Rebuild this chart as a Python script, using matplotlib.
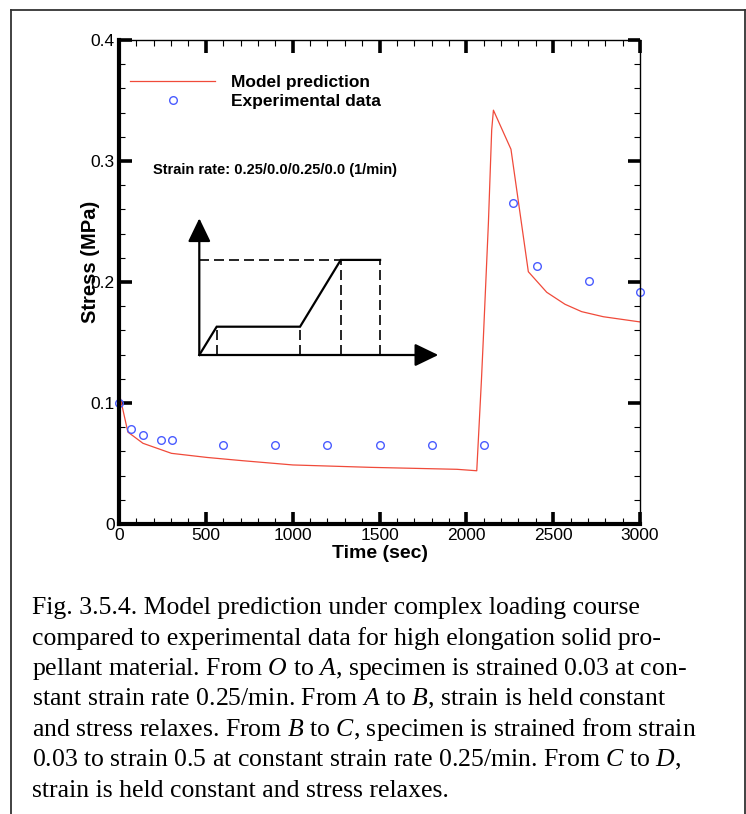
import matplotlib
matplotlib.use("Agg")
import matplotlib.pyplot as plt
from matplotlib.lines import Line2D
from matplotlib.ticker import MultipleLocator

plt.rcParams['font.family'] = ['Liberation Sans', 'DejaVu Sans']
plt.rcParams['mathtext.fontset'] = 'custom'
plt.rcParams['mathtext.rm'] = 'Liberation Serif'
plt.rcParams['mathtext.it'] = 'Liberation Serif:italic'

# ---- data ----
model_t = [0, 51, 138, 302, 507, 713, 1001, 1453, 1946, 2060,
           2087, 2098, 2127, 2146, 2156, 2257, 2357, 2463, 2568, 2664, 2789, 3000]
model_s = [0.109, 0.076, 0.0667, 0.0584, 0.055, 0.0523, 0.0488, 0.0468, 0.0452, 0.044,
           0.119, 0.1535, 0.2485, 0.3256, 0.342, 0.3097, 0.2085, 0.1915, 0.1816, 0.1755, 0.1713, 0.167]

exp_t = [0, 71, 141, 240, 306, 600, 900, 1200, 1500, 1800, 2100, 2267, 2405, 2704, 3000]
exp_s = [0.1003, 0.0785, 0.0736, 0.0694, 0.0694, 0.0656, 0.0656, 0.0656, 0.0656, 0.0656, 0.0656,
         0.2656, 0.2135, 0.2006, 0.1917]

x_ticks = [0, 500, 1000, 1500, 2000, 2500, 3000]
y_ticks = [0, 0.1, 0.2, 0.3, 0.4]
y_ticklabels = ['0', '0.1', '0.2', '0.3', '0.4']

# schematic loading path O-A-B-C-D (schematic units)
sch_t = [0, 1.0, 5.79, 8.13, 10.39]
sch_e = [0, 1.0, 1.0, 3.36, 3.36]

caption_lines = [
    "Fig. 3.5.4. Model prediction under complex loading course",
    "compared to experimental data for high elongation solid pro-",
    "pellant material. From $O$ to $A$, specimen is strained 0.03 at con-",
    "stant strain rate 0.25/min. From $A$ to $B$, strain is held constant",
    "and stress relaxes. From $B$ to $C$, specimen is strained from strain",
    "0.03 to strain 0.5 at constant strain rate 0.25/min. From $C$ to $D$,",
    "strain is held constant and stress relaxes.",
]

W, H = 746, 814
fig = plt.figure(figsize=(W / 100, H / 100), dpi=100)

def fx(px):
    return px / W

def fy(py):
    return 1 - py / H

# outer border
for (x0, y0, x1, y1) in [(11, 10, 11, H), (11, 10, 745, 10), (745, 10, 745, H)]:
    fig.add_artist(Line2D([fx(x0), fx(x1)], [fy(y0), fy(y1)], color='#333333', lw=1.3,
                          transform=fig.transFigure))

ax = fig.add_axes([fx(119), fy(524), fx(640) - fx(119), fy(40) - fy(524)])
ax.plot(model_t, model_s, color='#f04a3a', lw=0.9, label='Model prediction')
ax.plot(exp_t, exp_s, linestyle='none', marker='o', markersize=5.5, markerfacecolor='none',
        markeredgecolor='#4a5cff', markeredgewidth=1.0, label='Experimental data', clip_on=False)
ax.set_xlim(0, 3000)
ax.set_ylim(0, 0.4)
ax.set_xticks(x_ticks)
ax.set_yticks(y_ticks)
ax.set_yticklabels(y_ticklabels)
ax.xaxis.set_minor_locator(MultipleLocator(100))
ax.yaxis.set_minor_locator(MultipleLocator(0.02))
ax.tick_params(which='major', direction='in', top=True, right=True, length=9, width=2.6,
               labelsize=12.5, pad=3)
ax.tick_params(which='minor', direction='in', top=True, right=True, length=4.5, width=0.8)
for s in ['left', 'bottom']:
    ax.spines[s].set_linewidth(3)
for s in ['top', 'right']:
    ax.spines[s].set_linewidth(1)

ax.set_xlabel('Time (sec)', fontsize=14, fontweight='bold', labelpad=1)
fig.text(fx(91), fy(262), 'Stress (MPa)', rotation=90, fontsize=14.5, fontweight='bold',
         ha='center', va='center')

leg = ax.legend(loc='center left', bbox_to_anchor=(fx(130), fy(92)), bbox_transform=fig.transFigure,
                frameon=False, borderpad=0, borderaxespad=0, handlelength=4.9, handletextpad=0.9,
                labelspacing=0.25, prop={'size': 12.5, 'weight': 'bold'})

fig.text(fx(153), fy(170), 'Strain rate: 0.25/0.0/0.25/0.0 (1/min)', fontsize=10.5,
         fontweight='bold', ha='left', va='center')

# inset schematic
ox, oy = 199.3, 355.0
ux, uy = 17.4, 28.3
tip_x, tip_y = 438.3, 218.3
x_max = (tip_x - ox) / ux
y_max = (oy - tip_y) / uy
axi = fig.add_axes([fx(ox), fy(oy), fx(tip_x) - fx(ox), fy(tip_y) - fy(oy)])
axi.set_xlim(0, x_max)
axi.set_ylim(0, y_max)
axi.axis('off')
arrow_kw = dict(arrowstyle='-|>,head_length=1.45,head_width=0.7', lw=1.6, color='k',
                shrinkA=0, shrinkB=0)
axi.annotate('', xy=(0, y_max), xytext=(0, 0), arrowprops=arrow_kw, annotation_clip=False)
axi.annotate('', xy=(x_max, 0), xytext=(0, 0), arrowprops=arrow_kw, annotation_clip=False)
axi.plot(sch_t, sch_e, color='k', lw=1.6, solid_joinstyle='miter', clip_on=False)
for t, e in zip(sch_t[1:], sch_e[1:]):
    axi.plot([t, t], [0, e], color='k', lw=1.2, linestyle=(0, (6, 3)), clip_on=False)
axi.plot([0, sch_t[3]], [sch_e[3], sch_e[3]], color='k', lw=1.2, linestyle=(0, (6, 3)), clip_on=False)

# caption
for i, line in enumerate(caption_lines):
    fig.text(fx(32), fy(614 + 30.5 * i), line, fontsize=18.5, family='Liberation Serif',
             ha='left', va='baseline')

fig.savefig('out.png', dpi=100)
